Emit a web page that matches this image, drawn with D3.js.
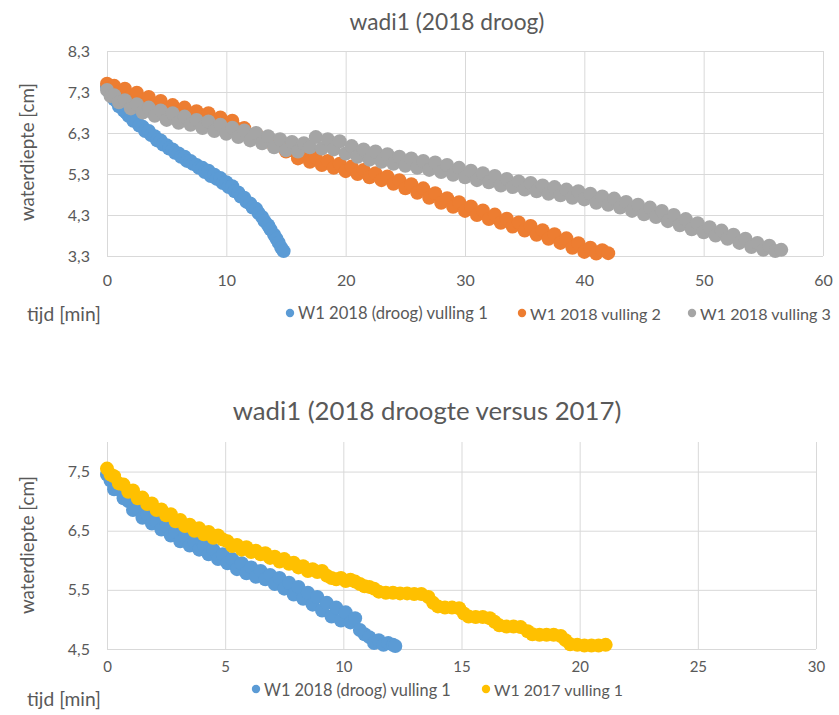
<!DOCTYPE html>
<html><head><meta charset="utf-8">
<script src="https://cdn.jsdelivr.net/npm/d3@7"></script>
<style>
body{margin:0;background:#fff}
text{font-family:Lato,"Open Sans",sans-serif;fill:#595959}
</style></head>
<body><svg id="c" width="839" height="715"></svg>
<script>
// ---------- DATA ----------
const topTitle = "wadi1 (2018 droog)";
const bottomTitle = "wadi1 (2018 droogte versus 2017)";
const yLabel = "waterdiepte [cm]";
const xLabel = "tijd [min]";

const topXTicks = [0,10,20,30,40,50,60];
const topYTicks = [3.3,4.3,5.3,6.3,7.3,8.3];
const botXTicks = [0,5,10,15,20,25,30];
const botYTicks = [4.5,5.5,6.5,7.5];

const topSeriesNames = ["W1 2018 (droog) vulling 1","W1 2018 vulling 2","W1 2018 vulling 3"];
const botSeriesNames = ["W1 2018 (droog) vulling 1","W1 2017 vulling 1"];

// top chart: [tijd, waterdiepte]
const w1_2018_v1 = [[0,7.42],[0.2,7.3],[0.4,7.25],[0.6,7.12],[0.8,7.08],[1.0,6.95],[1.2,6.95],[1.4,6.85],[1.6,6.8],[1.8,6.72],[2.0,6.7],[2.2,6.6],[2.5,6.6],[2.7,6.48],[3.0,6.45],[3.2,6.35],[3.5,6.35],[3.7,6.25],[4.0,6.22],[4.2,6.12],[4.5,6.12],[4.7,6.02],[5.0,6.0],[5.2,5.92],[5.5,5.9],[5.7,5.82],[6.0,5.8],[6.2,5.72],[6.5,5.72],[6.7,5.62],[7.0,5.62],[7.2,5.55],[7.5,5.52],[7.7,5.45],[8.0,5.45],[8.2,5.35],[8.5,5.38],[8.7,5.25],[9.0,5.28],[9.2,5.18],[9.5,5.2],[9.7,5.08],[10.0,5.1],[10.2,4.98],[10.5,5.0],[10.7,4.88],[11.0,4.85],[11.2,4.75],[11.5,4.72],[11.7,4.62],[12.0,4.58],[12.2,4.48],[12.5,4.45],[12.7,4.35],[13.0,4.25],[13.2,4.15],[13.5,4.05],[13.7,3.95],[14.0,3.82],[14.2,3.72],[14.4,3.62],[14.6,3.5],[14.8,3.42]];

const w1_2018_v2 = [[0,7.5],[0.3,7.4],[0.6,7.45],[1.0,7.3],[1.5,7.38],[2.0,7.2],[2.5,7.28],[3.0,7.1],[3.5,7.18],[4.0,7.0],[4.5,7.08],[5.0,6.9],[5.5,6.98],[6.0,6.82],[6.5,6.92],[7.0,6.75],[7.5,6.83],[8.0,6.68],[8.5,6.78],[9.0,6.6],[9.5,6.68],[10.0,6.55],[10.5,6.6],[11.0,6.4],[11.5,6.42],[12.0,6.25],[12.5,6.28],[13.0,6.12],[13.5,6.15],[14.0,5.98],[14.5,6.0],[15.0,5.85],[15.5,5.88],[16.0,5.68],[16.5,5.78],[17.0,5.6],[17.5,5.7],[18.0,5.52],[18.5,5.62],[19.0,5.45],[19.5,5.55],[20.0,5.37],[20.5,5.48],[21.0,5.3],[21.5,5.4],[22.0,5.22],[22.5,5.32],[23.0,5.15],[23.5,5.24],[24.0,5.06],[24.5,5.15],[25.0,4.95],[25.5,5.05],[26.0,4.84],[26.5,4.95],[27.0,4.72],[27.5,4.83],[28.0,4.6],[28.5,4.71],[29.0,4.5],[29.5,4.61],[30.0,4.4],[30.5,4.51],[31.0,4.3],[31.5,4.41],[32.0,4.2],[32.5,4.31],[33.0,4.11],[33.5,4.21],[34.0,4.02],[34.5,4.12],[35.0,3.92],[35.5,4.03],[36.0,3.82],[36.5,3.93],[37.0,3.72],[37.5,3.83],[38.0,3.62],[38.5,3.73],[39.0,3.5],[39.5,3.61],[40.0,3.4],[40.5,3.5],[41.0,3.36],[41.5,3.44],[42.0,3.37]];

const w1_2018_v3 = [[0,7.35],[0.3,7.2],[0.6,7.22],[1.0,7.05],[1.5,7.1],[2.0,6.9],[2.5,7.0],[3.0,6.8],[3.5,6.92],[4.0,6.72],[4.5,6.85],[5.0,6.62],[5.5,6.78],[6.0,6.55],[6.5,6.7],[7.0,6.5],[7.5,6.62],[8.0,6.42],[8.5,6.58],[9.0,6.35],[9.5,6.5],[10.0,6.28],[10.5,6.43],[11.0,6.2],[11.5,6.36],[12.0,6.12],[12.5,6.3],[13.0,6.05],[13.5,6.22],[14.0,5.95],[14.5,6.15],[15.0,5.88],[15.5,6.08],[16.0,5.85],[16.5,6.05],[17.0,5.95],[17.5,6.2],[18.0,5.92],[18.5,6.15],[19.0,5.9],[19.5,6.1],[20.0,5.8],[20.5,5.98],[21.0,5.72],[21.5,5.9],[22.0,5.65],[22.5,5.85],[23.0,5.6],[23.5,5.78],[24.0,5.55],[24.5,5.72],[25.0,5.5],[25.5,5.68],[26.0,5.45],[26.5,5.62],[27.0,5.4],[27.5,5.58],[28.0,5.35],[28.5,5.52],[29.0,5.28],[29.5,5.45],[30.0,5.22],[30.5,5.38],[31.0,5.15],[31.5,5.32],[32.0,5.1],[32.5,5.25],[33.0,5.02],[33.5,5.18],[34.0,4.98],[34.5,5.12],[35.0,4.92],[35.5,5.08],[36.0,4.88],[36.5,5.02],[37.0,4.82],[37.5,4.98],[38.0,4.78],[38.5,4.92],[39.0,4.72],[39.5,4.88],[40.0,4.68],[40.5,4.82],[41.0,4.6],[41.5,4.75],[42.0,4.55],[42.5,4.7],[43.0,4.48],[43.5,4.62],[44.0,4.4],[44.5,4.55],[45.0,4.32],[45.5,4.48],[46.0,4.25],[46.5,4.4],[47.0,4.15],[47.5,4.3],[48.0,4.05],[48.5,4.2],[49.0,3.95],[49.5,4.1],[50.0,3.88],[50.5,4.0],[51.0,3.8],[51.5,3.92],[52.0,3.72],[52.5,3.82],[53.0,3.62],[53.5,3.72],[54.0,3.52],[54.5,3.62],[55.0,3.45],[55.5,3.55],[56.0,3.42],[56.5,3.45]];

// bottom chart
const w1_2018_droog_v1 = [[0,7.45],[0.15,7.35],[0.3,7.2],[0.5,7.2],[0.7,7.05],[0.9,7.0],[1.1,6.85],[1.3,6.88],[1.5,6.72],[1.7,6.78],[1.9,6.62],[2.1,6.65],[2.3,6.52],[2.5,6.58],[2.7,6.42],[2.9,6.48],[3.1,6.32],[3.3,6.4],[3.5,6.25],[3.7,6.32],[3.9,6.18],[4.1,6.25],[4.3,6.1],[4.5,6.18],[4.7,6.02],[4.9,6.1],[5.1,5.95],[5.3,6.02],[5.5,5.85],[5.7,5.95],[5.9,5.78],[6.1,5.88],[6.3,5.72],[6.5,5.82],[6.7,5.68],[6.9,5.75],[7.1,5.6],[7.3,5.7],[7.5,5.52],[7.7,5.62],[7.9,5.42],[8.1,5.55],[8.3,5.35],[8.5,5.45],[8.7,5.25],[8.9,5.38],[9.1,5.15],[9.3,5.28],[9.5,5.05],[9.7,5.2],[9.9,4.98],[10.1,5.12],[10.3,4.95],[10.5,5.02],[10.7,4.82],[10.9,4.75],[11.1,4.7],[11.3,4.6],[11.5,4.65],[11.7,4.57],[11.9,4.6],[12.1,4.57],[12.2,4.55]];

const w1_2017_v1 = [[0,7.55],[0.15,7.45],[0.3,7.42],[0.5,7.3],[0.7,7.28],[0.9,7.16],[1.1,7.18],[1.3,7.05],[1.5,7.06],[1.7,6.95],[1.9,6.96],[2.1,6.85],[2.3,6.86],[2.5,6.76],[2.7,6.78],[2.9,6.66],[3.1,6.68],[3.3,6.58],[3.5,6.6],[3.7,6.5],[3.9,6.54],[4.1,6.44],[4.3,6.48],[4.5,6.38],[4.7,6.42],[4.9,6.35],[5.1,6.32],[5.3,6.24],[5.5,6.26],[5.7,6.18],[5.9,6.22],[6.1,6.14],[6.3,6.16],[6.5,6.1],[6.7,6.12],[6.9,6.04],[7.1,6.06],[7.3,5.98],[7.5,6.02],[7.7,5.94],[7.9,5.96],[8.1,5.88],[8.3,5.9],[8.5,5.82],[8.7,5.85],[8.9,5.8],[9.1,5.82],[9.3,5.74],[9.5,5.7],[9.7,5.68],[9.9,5.7],[10.1,5.65],[10.3,5.67],[10.5,5.64],[10.7,5.6],[10.9,5.56],[11.1,5.55],[11.3,5.52],[11.5,5.47],[11.8,5.45],[12.1,5.45],[12.4,5.44],[12.7,5.44],[13.0,5.43],[13.3,5.43],[13.6,5.38],[13.8,5.28],[14.0,5.22],[14.3,5.2],[14.6,5.2],[14.9,5.19],[15.1,5.1],[15.3,5.05],[15.6,5.04],[15.9,5.04],[16.2,5.02],[16.4,4.96],[16.6,4.9],[16.9,4.88],[17.2,4.88],[17.5,4.87],[17.8,4.8],[18.0,4.75],[18.3,4.74],[18.6,4.74],[18.9,4.74],[19.2,4.72],[19.4,4.65],[19.6,4.58],[19.9,4.57],[20.2,4.56],[20.5,4.56],[20.8,4.56],[21.1,4.57]];

const topColors = ["#5B9BD5","#ED7D31","#A5A5A5"];
const botColors = ["#5B9BD5","#FFC000"];

// ---------- DRAW ----------
const svg = d3.select("#c");
const fmt = v => d3.format(".1f")(v).replace(".", ",");
const grid = "#d9d9d9";

function fitText(sel, target, base){
  const w = sel.node().getComputedTextLength();
  sel.attr("font-size", base * target / w);
}

function chart(cfg){
  const g = svg.append("g");
  const x = d3.scaleLinear().domain(cfg.xDom).range(cfg.xRange);
  const y = d3.scaleLinear().domain(cfg.yDom).range(cfg.yRange);
  const w = cfg.xRange[1]-cfg.xRange[0];
  const top = cfg.yRange[1], bot = cfg.yRange[0];

  const ax = g.append("g").attr("transform",`translate(0,${bot})`)
    .call(d3.axisBottom(x).tickValues(cfg.xTicks).tickSize(-(bot-top)).tickPadding(cfg.xPad).tickFormat(d3.format("d")));
  ax.select(".domain").remove();
  ax.selectAll("line").attr("stroke",grid);
  ax.selectAll("text").attr("font-size",cfg.tickFs).style("fill","#595959").attr("font-family","Lato");

  const ay = g.append("g").attr("transform",`translate(${cfg.xRange[0]},0)`)
    .call(d3.axisLeft(y).tickValues(cfg.yTicks).tickSize(-w).tickPadding(17).tickFormat(fmt));
  ay.select(".domain").remove();
  ay.selectAll("line").attr("stroke",grid);
  ay.selectAll("text").attr("font-size",16).style("fill","#595959").attr("font-family","Lato");

  cfg.series.forEach((s,i)=>{
    g.append("g").selectAll("circle").data(s).join("circle")
      .attr("cx",d=>x(d[0])).attr("cy",d=>y(d[1])).attr("r",cfg.r)
      .attr("fill",cfg.colors[i]);
  });

  const t = g.append("text").attr("x",cfg.titleX).attr("y",cfg.titleY)
    .attr("text-anchor","middle").attr("font-size",20).text(cfg.title);
  fitText(t, cfg.titleW, 20);

  const yl = g.append("text").attr("transform",`translate(${cfg.yLabX},${cfg.yLabY}) rotate(-90)`)
    .attr("text-anchor","middle").attr("dominant-baseline","central").attr("font-size",16).text(yLabel);
  fitText(yl, 138, 16);

  const xl = g.append("text").attr("x",27).attr("y",cfg.xLabY).attr("dominant-baseline","central")
    .attr("font-size",16).text(xLabel);
  fitText(xl, 74, 16);

  cfg.names.forEach((n,i)=>{
    const lx = cfg.legX[i];
    g.append("circle").attr("cx",lx).attr("cy",cfg.legY).attr("r",4.2).attr("fill",cfg.colors[i]);
    const lt = g.append("text").attr("x",lx+8).attr("y",cfg.legY).attr("dominant-baseline","central")
      .attr("font-size",16).text(n);
    fitText(lt, cfg.legW[i], 16);
  });
}

chart({
  xDom:[0,60], xRange:[107,823], yDom:[3.3,8.3], yRange:[256,51],
  xTicks:topXTicks, yTicks:topYTicks, xPad:19, tickFs:16,
  series:[w1_2018_v1,w1_2018_v2,w1_2018_v3], colors:topColors, names:topSeriesNames, r:7,
  title:topTitle, titleX:447, titleY:30, titleW:195,
  yLabX:27, yLabY:152, xLabY:313, legY:313, legX:[290,522,692], legW:[190,131,131]
});

chart({
  xDom:[0,30], xRange:[107,816], yDom:[4.5,8.0], yRange:[649,442],
  xTicks:botXTicks, yTicks:botYTicks, xPad:12, tickFs:15,
  series:[w1_2018_droog_v1,w1_2017_v1], colors:botColors, names:botSeriesNames, r:7,
  title:bottomTitle, titleX:427, titleY:420, titleW:389,
  yLabX:27, yLabY:545, xLabY:698, legY:689, legX:[256,486], legW:[187,129]
});
</script></body></html>
